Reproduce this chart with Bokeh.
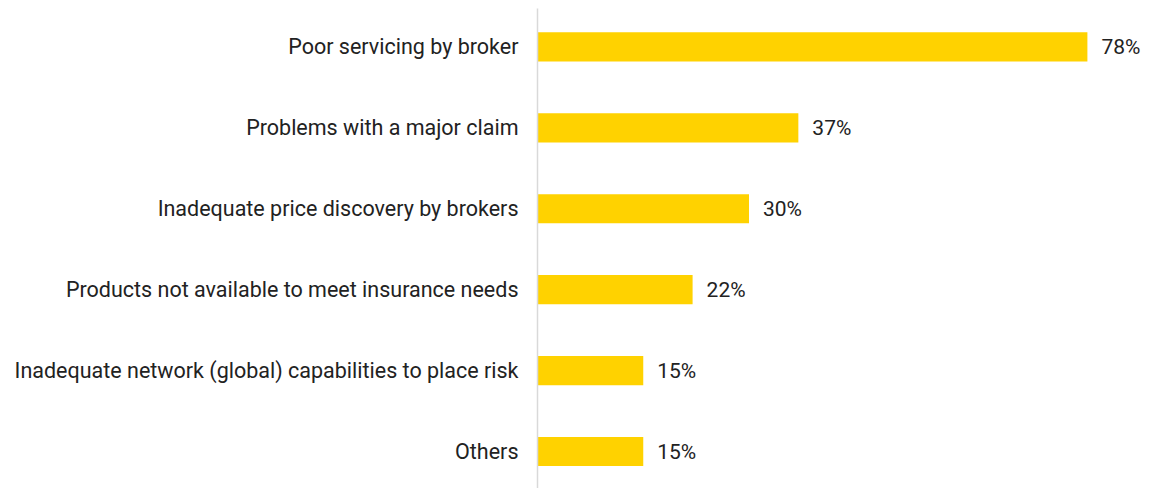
from bokeh.plotting import figure
from bokeh.models import ColumnDataSource, FixedTicker, Range1d
from bokeh.core.properties import value
from bokeh.embed import file_html
from bokeh.resources import INLINE

categories = [
    "Poor servicing by broker",
    "Problems with a major claim",
    "Inadequate price discovery by brokers",
    "Products not available to meet insurance needs",
    "Inadequate network (global) capabilities to place risk",
    "Others",
]
values = [78, 37, 30, 22, 15, 15]
value_labels = ["78%", "37%", "30%", "22%", "15%", "15%"]

n = len(categories)
ypos = [n - 1 - i for i in range(n)]

src = ColumnDataSource(dict(y=ypos, v=values, lab=value_labels, cat=categories))

FONT = "Roboto"
TXT = "#222222"

p = figure(width=1153, height=488, output_backend="svg", toolbar_location=None,
           x_range=Range1d(0, 616 / 7.05), y_range=Range1d(-0.457, 5.475),
           min_border_left=537, min_border_right=0, min_border_top=8, min_border_bottom=0)

p.hbar(y="y", right="v", left=0, height=0.36, source=src, color="#FFD200", line_color=None)
p.text(x="v", y="y", text="lab", source=src, x_offset=14, text_align="left",
       text_baseline="middle", text_font=value(FONT), text_font_size="21px", text_color=TXT)

p.xaxis.visible = False
p.xgrid.visible = False
p.ygrid.visible = False
p.outline_line_color = None

ax = p.yaxis[0]
ax.ticker = FixedTicker(ticks=ypos)
ax.major_label_overrides = {y: c for y, c in zip(ypos, categories)}
ax.axis_line_color = "#d9d9d9"
ax.axis_line_width = 1.5
ax.major_tick_line_color = None
ax.minor_tick_line_color = None
ax.major_tick_out = 0
ax.major_tick_in = 0
ax.major_label_standoff = 19
ax.major_label_text_font = FONT
ax.major_label_text_font_size = "21.5px"
ax.major_label_text_color = TXT

open("out.html", "w").write(file_html(p, INLINE))
